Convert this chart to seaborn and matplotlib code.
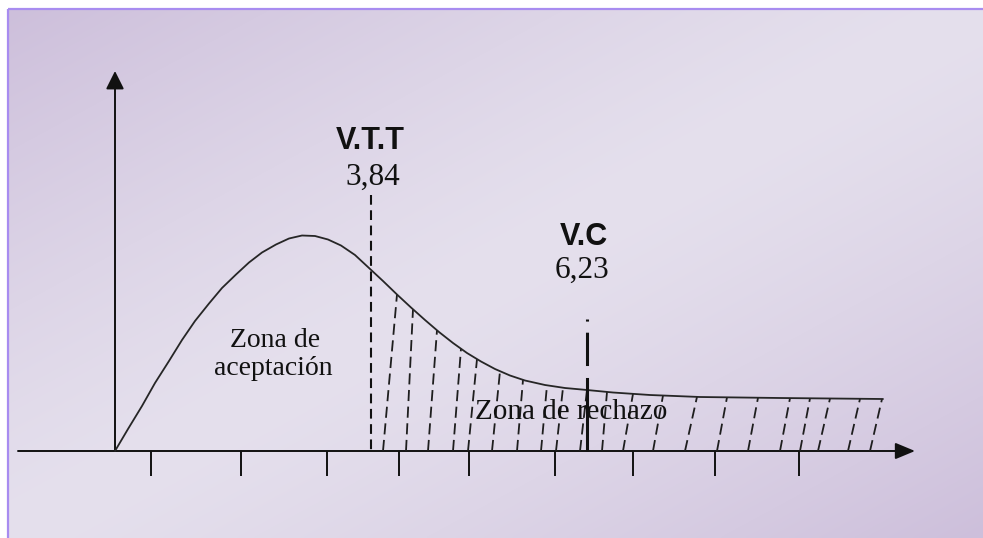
import numpy as np
import pandas as pd
import matplotlib
matplotlib.use("Agg")
import matplotlib.pyplot as plt
import seaborn as sns

# ---------------- data (diagram units: origin at the axes' crossing) ----------------
curve_x = [0, 13, 27, 40, 54, 67, 80, 94, 107, 121, 134, 147, 161, 174, 187,
           200, 213, 226, 240, 254, 268, 282, 296, 310, 324, 338, 352, 366,
           380, 395, 410, 430, 450, 472, 498, 535, 585, 665, 768]
curve_y = [0, 22, 45, 68, 90, 111, 130, 147.5, 163, 176.5, 188.5, 198.5, 206.5,
           212.5, 215.5, 215, 211.5, 205.5, 196, 183, 170, 156.5, 143.5, 131,
           119, 108, 98, 89.5, 82, 75.5, 70.5, 66, 63, 61, 58.5, 56, 54, 53, 52]

hatch_bottom_x = [268, 291, 313, 338, 353, 377, 402, 426, 441, 465, 487, 508, 538,
                  570, 602, 633, 665, 685, 703, 733, 755]
hatch_top_x = [282, 298, 322, 346, 362, 385, 408, 432, 448, 472, 492, 518, 548,
               582, 612, 643, 675, 695, 715, 745, 767]

tick_x = [36, 126, 212, 284, 354, 440, 518, 600, 684]

vtt_x, vtt_top = 256, 256
vc_x, vc_top = 472, 132

labels_vtt = ["V.T.T", "3,84"]
labels_vc = ["V.C", "6,23"]
zone_accept = ["Zona de", "aceptación"]
zone_reject = "Zona de rechazo"

# ---------------- figure ----------------
sns.set_theme(style="white")
plt.rcParams["lines.scale_dashes"] = False
plt.rcParams["font.family"] = ["Liberation Serif", "DejaVu Serif"]

fig = plt.figure(figsize=(9.83, 5.38), dpi=100, facecolor="white")
ax = fig.add_axes([0, 0, 1, 1])
ax.set_xlim(-115, 868)
ax.set_ylim(-87, 451)
ax.axis("off")

# background gradient inside the frame
W, H = 400, 220
u = np.linspace(0, 1, W)[None, :]
v = np.linspace(0, 1, H)[:, None]
t = (u + v) / 2.0
s = np.abs(2 * t - 1) ** 1.3
dark = np.array([205, 191, 219]) / 255.0
light = np.array([229, 224, 237]) / 255.0
img = light[None, None, :] - (light - dark)[None, None, :] * s[:, :, None]
ax.imshow(img, extent=(-107, 868, -87, 442), origin="upper", aspect="auto",
          zorder=0, interpolation="bilinear")
# frame (left and top only)
ax.plot([-107, -107], [-87, 442], color="#a88cf0", lw=1.6, zorder=1,
        solid_capstyle="butt")
ax.plot([-107, 868], [442, 442], color="#a88cf0", lw=1.6, zorder=1,
        solid_capstyle="butt")

ink = "#111111"

# axes with arrows
ax.annotate("", xy=(800, 0), xytext=(-97, 0),
            arrowprops=dict(arrowstyle="-|>,head_length=1.2,head_width=0.5",
                            lw=1.4, color=ink, shrinkA=0, shrinkB=0,
                            mutation_scale=10), zorder=3)
ax.annotate("", xy=(0, 380), xytext=(0, 0),
            arrowprops=dict(arrowstyle="-|>,head_length=1.1,head_width=0.55",
                            lw=1.4, color=ink, shrinkA=0, shrinkB=0,
                            mutation_scale=10), zorder=3)

# tick marks below the x axis
for tx in tick_x:
    ax.plot([tx, tx], [0, -25], color=ink, lw=1.4, zorder=3,
            solid_capstyle="butt")

# curve
df = pd.DataFrame({"x": curve_x, "y": curve_y})
sns.lineplot(data=df, x="x", y="y", ax=ax, color="#262626", lw=1.3,
             sort=False, zorder=4, estimator=None)

# hatching of the rejection zone
for bx, tx in zip(hatch_bottom_x, hatch_top_x):
    ty = float(np.interp(tx, curve_x, curve_y))
    ax.plot([bx, tx], [0, ty], color="#1e1e1e", lw=1.3, zorder=3,
            linestyle=(0, (8, 4)))

# V.T.T dashed line
ax.plot([vtt_x, vtt_x], [vtt_top, 0], color=ink, lw=1.5, zorder=3,
        linestyle=(0, (7, 4)))
# V.C dash-dot line
ax.plot([vc_x, vc_x], [vc_top, 0], color=ink, lw=2.2, zorder=5,
        linestyle=(0, (1.5, 8, 24, 8.6, 60, 1)))

# labels
bold_cond = dict(family=["Liberation Sans Narrow", "Liberation Sans", "DejaVu Sans"],
                 fontweight="bold", fontsize=22, color=ink)
ax.text(255, 302, labels_vtt[0], ha="center", va="baseline", zorder=6, **bold_cond)
ax.text(258, 266, labels_vtt[1], ha="center", va="baseline", fontsize=22.5,
        color=ink, zorder=6)
ax.text(469, 206, labels_vc[0], ha="center", va="baseline", zorder=6, **bold_cond)
ax.text(467, 173, labels_vc[1], ha="center", va="baseline", fontsize=22.5,
        color=ink, zorder=6)
ax.text(160, 104, zone_accept[0], ha="center", va="baseline", fontsize=20,
        color=ink, zorder=6)
ax.text(158.5, 76, zone_accept[1], ha="center", va="baseline", fontsize=20,
        color=ink, zorder=6)
ax.text(360, 32, zone_reject, ha="left", va="baseline", fontsize=21,
        color=ink, zorder=6)

fig.savefig("out.png", dpi=100, facecolor="white")
